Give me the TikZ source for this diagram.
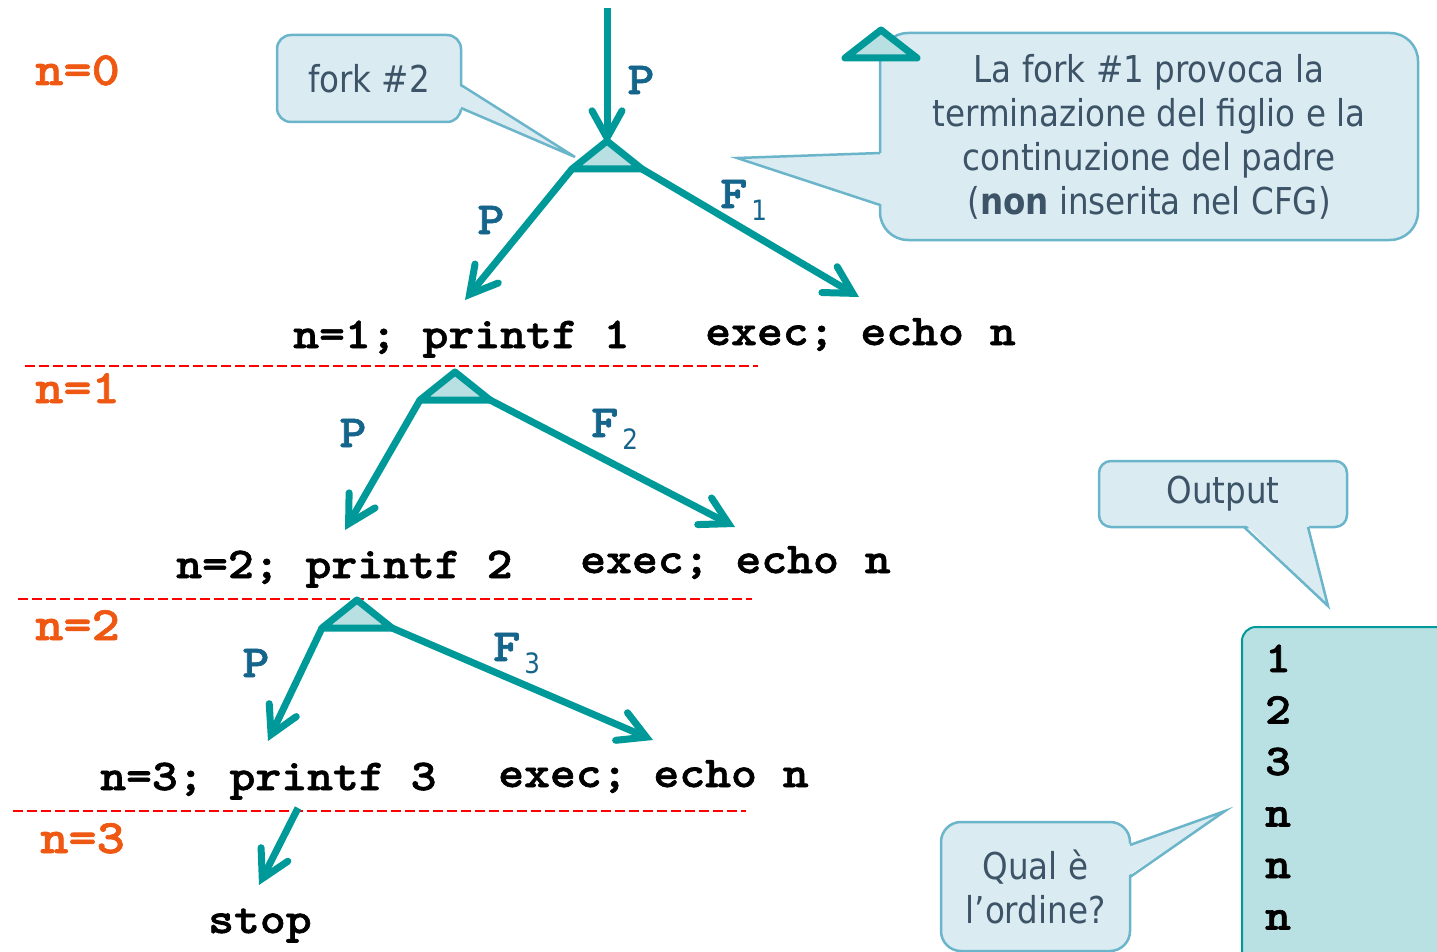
\documentclass[tikz,border=0pt]{standalone}
\usepackage{fontspec}
\usetikzlibrary{arrows.meta}

\newfontfamily\codefont{lmmonolt10-bold.otf}[FakeStretch=1.12, FakeBold=1.4]
\newfontfamily\notefont{DejaVu Sans}[FakeStretch=0.88]

\definecolor{flowteal}{RGB}{0,153,153}
\definecolor{forkfill}{RGB}{184,224,226}
\definecolor{notefill}{RGB}{218,235,241}
\definecolor{noteline}{RGB}{107,181,203}
\definecolor{notetext}{RGB}{61,84,104}
\definecolor{levelorange}{RGB}{238,88,18}
\definecolor{edgeblue}{RGB}{20,100,140}
\definecolor{outfill}{RGB}{185,224,226}

\tikzset{
  flow/.style={draw=flowteal, line width=7pt,
    -{Straight Barb[length=27pt,width=30pt,line cap=round,line join=miter]}},
  forktri/.style={draw=flowteal, fill=forkfill, line width=7pt, line join=round},
  code/.style={inner sep=0pt, anchor=base west,
    font=\codefont\fontsize{44}{44}\selectfont},
  level/.style={code, text=levelorange, font=\codefont\fontsize{48}{48}\selectfont},
  edgelbl/.style={inner sep=0pt, anchor=base west, text=edgeblue,
    font=\codefont\fontsize{46}{46}\selectfont},
  sep/.style={red, line width=2pt, dash pattern=on 10pt off 4pt},
  note/.style={draw=noteline, fill=notefill, line width=2.5pt, rounded corners=14pt,
    text=notetext, font=\notefont\fontsize{37}{44}\selectfont, align=center, inner sep=0pt},
  notetip/.style={draw=noteline, line width=2.5pt, line join=miter},
}
\newcommand\subidx[1]{\hspace{4pt}\raisebox{-12pt}{\notefont\fontsize{28}{28}\selectfont #1}}

\begin{document}
\begin{tikzpicture}[x=1pt, y=-1pt]
    \useasboundingbox (0,0) rectangle (1437,952);

    % levels and separators
    \node[level] (lev0) at (35,85) {n=0};
    \node[level] (lev1) at (35,403) {n=1};
    \node[level] (lev2) at (35,640) {n=2};
    \node[level] (lev3) at (40,853) {n=3};
    \draw[sep] (25,366) -- (758,366);
    \draw[sep] (18,599) -- (752,599);
    \draw[sep] (13,811) -- (746,811);

    % statements
    \node[code] (code1) at (293,348) {n=1; printf 1};
    \node[code] (exec1) at (705,345) {exec; echo n};
    \node[code] (code2) at (176,578) {n=2; printf 2};
    \node[code] (exec2) at (580,573) {exec; echo n};
    \node[code] (code3) at (100,790) {n=3; printf 3};
    \node[code] (exec3) at (498,787) {exec; echo n};
    \node[code] (stop) at (208,933) {stop};

    % arrow ends
    \coordinate (start) at (607,8);
    \coordinate (toP1) at (465,300);
    \coordinate (toF1) at (859,297);
    \coordinate (toP2) at (345,530);
    \coordinate (toF2) at (735,527);
    \coordinate (toP3) at (268,741);
    \coordinate (toF3) at (653,740);
    \coordinate (fromS) at (298,808);
    \coordinate (toS) at (259,885);

    % forks: apex, left and right corner
    \foreach \nm/\x/\y in {fa/607/141, fb/455/372, fc/357/600} {
        \coordinate (\nm) at (\x,\y);
        \coordinate (\nm-l) at (\x-35,\y+28);
        \coordinate (\nm-r) at (\x+35,\y+28);
    }

    \draw[flow] (start) -- ([yshift=-4pt]fa);
    \draw[flow] (fa-l) -- (toP1);
    \draw[flow] (fa-r) -- (toF1);
    \draw[flow] (fb-l) -- (toP2);
    \draw[flow] (fb-r) -- (toF2);
    \draw[flow] (fc-l) -- (toP3);
    \draw[flow] (fc-r) -- (toF3);
    \draw[flow] (fromS) -- (toS);

    \foreach \nm in {fa, fb, fc}
        \draw[forktri] (\nm) -- (\nm-r) -- (\nm-l) -- cycle;

    % edge labels
    \node[edgelbl, anchor=center] (lblP0) at (641,80) {P};
    \node[edgelbl, anchor=center] (lblP1) at (491,220) {P};
    \node[edgelbl, anchor=center] (lblP2) at (353,433) {P};
    \node[edgelbl, anchor=center] (lblP3) at (256,663) {P};
    \node[edgelbl] (lblF1) at (720,208) {F\subidx{1}};
    \node[edgelbl] (lblF2) at (591,437) {F\subidx{2}};
    \node[edgelbl] (lblF3) at (493,661) {F\subidx{3}};

    % fork #2 note
    \node[note, minimum width=184pt, minimum height=87pt] (forknote) at (369,78.5) {fork \#2};
    \fill[notefill] (458,85) -- (575,157) -- (458,108) -- cycle;
    \draw[notetip] (461,85) -- (575,157) -- (461,108);

    % fork #1 note
    \node[note, minimum width=538pt, minimum height=207pt, rounded corners=28pt] (forkinfo) at (1149,136.5)
        {La fork \#1 provoca la\\terminazione del figlio e la\\continuzione del padre\\(\textbf{non} inserita nel CFG)};
    \fill[notefill] (884,153) -- (737,158) -- (884,205) -- cycle;
    \draw[notetip] (880,153) -- (737,158) -- (880,205);
    \draw[forktri] (881,30) -- (917,58) -- (845,58) -- cycle;

    % output
    \node[draw=flowteal, fill=outfill, line width=2pt, rounded corners=14pt,
          minimum width=240pt, minimum height=360pt] (outbox) at (1362,807) {};
    \foreach \v [count=\i] in {1,2,3,n,n,n}
        \node[code, anchor=base] (out\i) at (1278,620.5+51.5*\i) {\v};

    \node[note, minimum width=248pt, minimum height=66pt, rounded corners=12pt] (outnote) at (1223,494) {Output};
    \fill[notefill] (1244,523) -- (1328,606) -- (1308,523) -- cycle;
    \draw[notetip] (1244,527) -- (1328,606) -- (1308,527);

    \node[note, minimum width=189pt, minimum height=129pt, rounded corners=20pt] (ordnote) at (1035.5,886.5)
        {Qual è\\l’ordine?};
    \fill[notefill] (1126,845) -- (1225,811) -- (1126,877) -- cycle;
    \draw[notetip] (1130,845) -- (1225,811) -- (1130,877);
\end{tikzpicture}
\end{document}
